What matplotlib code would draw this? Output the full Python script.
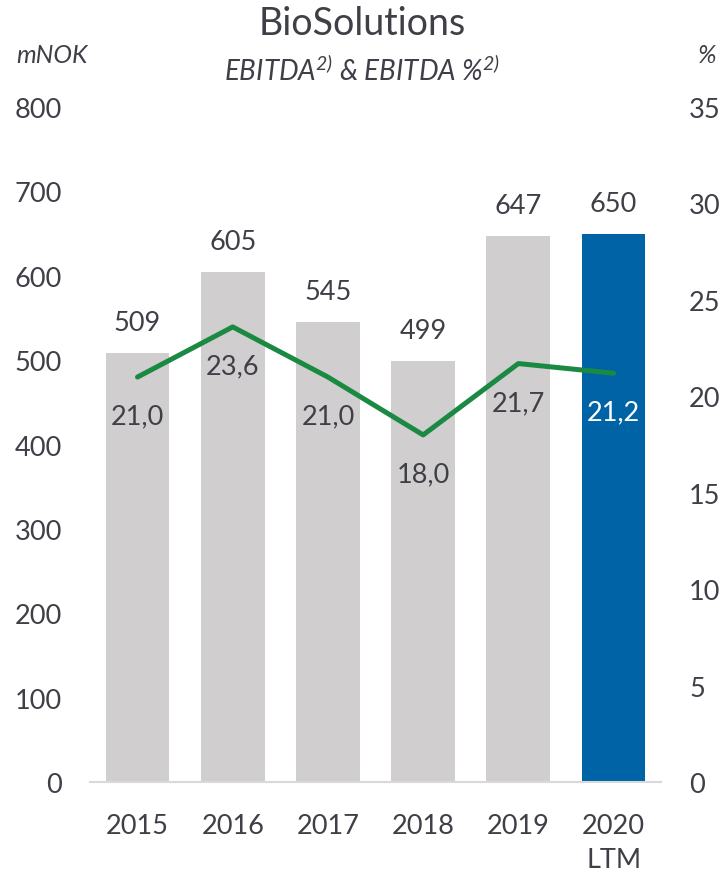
import matplotlib.pyplot as plt
import numpy as np

# --- Data ---
years = ['2015', '2016', '2017', '2018', '2019', '2020\nLTM']
ebitda = [509, 605, 545, 499, 647, 650]
ebitda_pct = [21.0, 23.6, 21.0, 18.0, 21.7, 21.2]
pct_labels = ['21,0', '23,6', '21,0', '18,0', '21,7', '21,2']

# --- Styles ---
GREY_BAR = '#D0CECE'
BLUE_BAR = '#0063A6'
GREEN = '#1A8A42'
TEXT = '#3F3F48'

plt.rcParams['font.family'] = ['Lato', 'DejaVu Sans']
plt.rcParams['mathtext.fontset'] = 'custom'
plt.rcParams['mathtext.it'] = 'Lato:italic'
plt.rcParams['mathtext.rm'] = 'Lato:italic'

fig = plt.figure(figsize=(7.25, 8.78), dpi=100)
ax = fig.add_axes([0.124, 0.108, 0.788, 0.769])
ax2 = ax.twinx()

x = np.arange(len(years))
colors = [GREY_BAR] * (len(years) - 1) + [BLUE_BAR]
bars = ax.bar(x, ebitda, width=0.67, color=colors, zorder=2)

ax.set_xlim(-0.5, len(years) - 0.5)
ax.set_ylim(0, 800)
ax.set_yticks(range(0, 801, 100))
ax.set_xticks(x)
ax.set_xticklabels(years, linespacing=1.45)

ax2.set_ylim(0, 35)
ax2.set_yticks(range(0, 36, 5))
ax2.plot(x, ebitda_pct, color=GREEN, lw=3.6, solid_capstyle='round', zorder=3)

# bar value labels
for xi, v in zip(x, ebitda):
    ax.annotate(str(v), (xi, v), xytext=(0, 22), textcoords='offset points',
                ha='center', va='center', fontsize=19.5, color=TEXT)

# percent labels
for i, (xi, p, lab) in enumerate(zip(x, ebitda_pct, pct_labels)):
    c = 'white' if i == len(years) - 1 else TEXT
    ax2.annotate(lab, (xi, p), xytext=(0, -28), textcoords='offset points',
                 ha='center', va='center', fontsize=19.5, color=c)

for a in (ax, ax2):
    for s in a.spines.values():
        s.set_visible(False)
    a.tick_params(length=0, labelsize=19.5, labelcolor=TEXT)
ax.spines['bottom'].set_visible(True)
ax.spines['bottom'].set_color('#D9D9D9')
ax.spines['bottom'].set_linewidth(1.5)
ax.tick_params(axis='y', pad=20)
ax2.tick_params(axis='y', pad=20)
ax.tick_params(axis='x', pad=22)

# titles
fig.text(0.5, 0.973, 'BioSolutions', ha='center', va='center', fontsize=27, color=TEXT)
fig.text(0.5, 0.919, r'EBITDA$^{2)}$ & EBITDA %$^{2)}$', ha='center', va='center',
         fontsize=20, color=TEXT, style='italic')
fig.text(0.072, 0.937, 'mNOK', ha='center', va='center', fontsize=18, color=TEXT, style='italic')
fig.text(0.975, 0.937, '%', ha='center', va='center', fontsize=18, color=TEXT, style='italic')

fig.savefig('out.png', dpi=100)
